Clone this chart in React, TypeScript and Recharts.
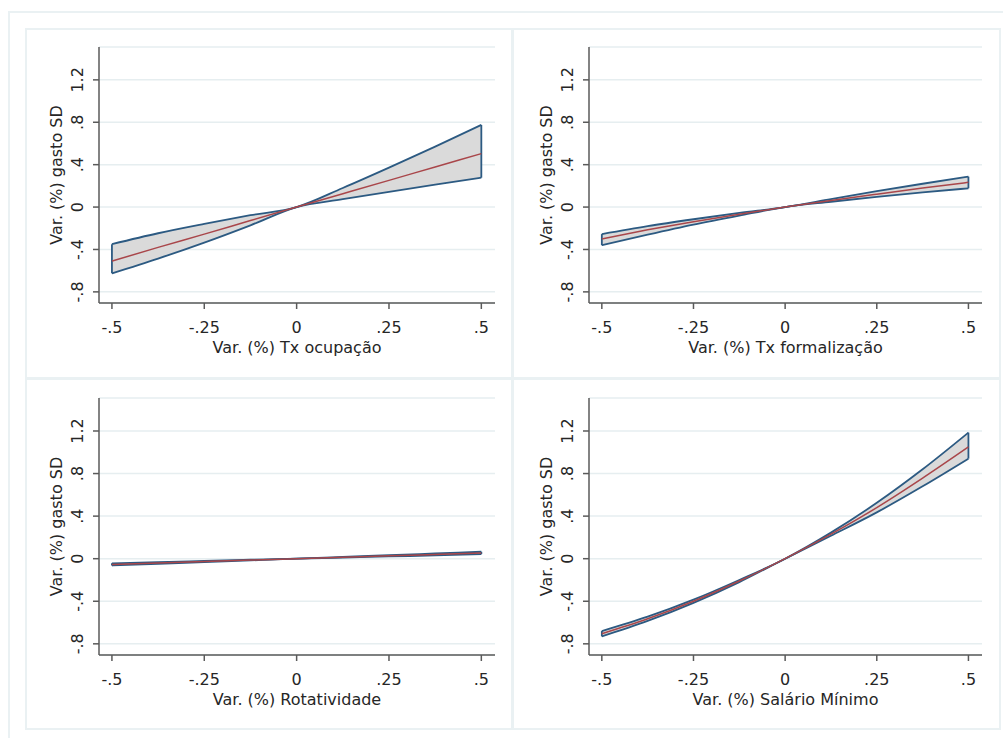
import { ComposedChart, Area, Line, XAxis, YAxis, CartesianGrid, ReferenceLine, Label } from 'recharts'

// x positions where the predictions were evaluated
const xPoints = [-0.5, -0.375, -0.25, -0.125, 0, 0.125, 0.25, 0.375, 0.5]

const xTicks = [-0.5, -0.25, 0, 0.25, 0.5]
const xTickLabels = ['-.5', '-.25', '0', '.25', '.5']
const yTicks = [-0.8, -0.4, 0, 0.4, 0.8, 1.2]
const yTickLabels = ['-.8', '-.4', '0', '.4', '.8', '1.2']

const yTitle = 'Var. (%) gasto SD'

// Tx ocupação
const ocupMean = [-0.51, -0.38, -0.255, -0.127, 0, 0.126, 0.252, 0.378, 0.504]
const ocupHi = [-0.35, -0.247, -0.159, -0.077, 0, 0.18, 0.372, 0.57, 0.775]
const ocupLo = [-0.625, -0.486, -0.335, -0.172, 0, 0.074, 0.144, 0.212, 0.277]

// Tx formalização
const formMean = [-0.3, -0.215, -0.138, -0.067, 0, 0.063, 0.122, 0.179, 0.233]
const formHi = [-0.255, -0.18, -0.115, -0.055, 0, 0.075, 0.15, 0.22, 0.287]
const formLo = [-0.36, -0.26, -0.165, -0.08, 0, 0.05, 0.097, 0.138, 0.177]

// Rotatividade
const rotMean = [-0.054, -0.04, -0.027, -0.013, 0, 0.013, 0.027, 0.04, 0.054]
const rotHi = [-0.044, -0.032, -0.021, -0.01, 0, 0.016, 0.033, 0.049, 0.065]
const rotLo = [-0.064, -0.048, -0.033, -0.016, 0, 0.01, 0.021, 0.031, 0.043]

// Salário Mínimo
const salMean = [-0.705, -0.565, -0.4, -0.21, 0, 0.23, 0.48, 0.757, 1.05]
const salHi = [-0.68, -0.545, -0.385, -0.2, 0, 0.245, 0.525, 0.84, 1.185]
const salLo = [-0.73, -0.585, -0.415, -0.22, 0, 0.215, 0.435, 0.68, 0.94]

const FONT = '"DejaVu Sans", Verdana, sans-serif'
const FS = 16
const TEXT = '#262626'
const AXIS = '#5a5a5a'
const GRID = '#e6eef0'
const BAND = '#dadada'
const EDGE = '#2c5a82'
const MEAN = '#a9464a'
const FRAME = '#eaf1f3'

const panels = [
  { title: 'Var. (%) Tx ocupação', mean: ocupMean, hi: ocupHi, lo: ocupLo, left: 25, top: 28, width: 487, height: 350, margin: { top: 19, right: 17, bottom: 15, left: 14 } },
  { title: 'Var. (%) Tx formalização', mean: formMean, hi: formHi, lo: formLo, left: 512, top: 28, width: 488, height: 350, margin: { top: 19, right: 18, bottom: 15, left: 17 } },
  { title: 'Var. (%) Rotatividade', mean: rotMean, hi: rotHi, lo: rotLo, left: 25, top: 378, width: 487, height: 351, margin: { top: 20, right: 17, bottom: 14, left: 14 } },
  { title: 'Var. (%) Salário Mínimo', mean: salMean, hi: salHi, lo: salLo, left: 512, top: 378, width: 488, height: 351, margin: { top: 20, right: 18, bottom: 14, left: 17 } },
]

const XTick = ({ x, y, payload }: any) => {
  const i = xTicks.indexOf(payload.value)
  return (
    <text x={x} y={y} textAnchor="middle" fontSize={FS} fontFamily={FONT} fill={TEXT}>
      {xTickLabels[i]}
    </text>
  )
}

const YTick = ({ x, y, payload }: any) => {
  const i = yTicks.findIndex(t => Math.abs(t - payload.value) < 1e-9)
  return (
    <text x={x} y={y} transform={`rotate(-90 ${x} ${y})`} textAnchor="middle" fontSize={FS} fontFamily={FONT} fill={TEXT}>
      {yTickLabels[i]}
    </text>
  )
}

function Panel({ p }: { p: typeof panels[number] }) {
  const data = xPoints.map((x, i) => ({ x, mean: p.mean[i], band: [p.lo[i], p.hi[i]] }))
  const last = xPoints.length - 1
  return (
    <div style={{ position: 'absolute', left: p.left, top: p.top }}>
      <ComposedChart width={p.width} height={p.height} data={data} margin={p.margin}>
        <CartesianGrid vertical={false} stroke={GRID} strokeWidth={1.5} />
        <XAxis
          dataKey="x" type="number" domain={[-0.535, 0.537]} allowDataOverflow
          ticks={xTicks} interval={0} height={60} tickSize={6} tickMargin={24}
          axisLine={{ stroke: AXIS, strokeWidth: 1.5 }} tickLine={{ stroke: AXIS, strokeWidth: 1.5 }}
          tick={<XTick />}
        >
          <Label
            content={({ viewBox }: any) => (
              <text x={viewBox.x + viewBox.width / 2} y={viewBox.y + 50} textAnchor="middle" fontSize={FS} fontFamily={FONT} fill={TEXT}>
                {p.title}
              </text>
            )}
          />
        </XAxis>
        <YAxis
          type="number" domain={[-0.905, 1.51]} allowDataOverflow
          ticks={yTicks} interval={0} width={60} tickSize={6} tickMargin={10}
          axisLine={{ stroke: AXIS, strokeWidth: 1.5 }} tickLine={{ stroke: AXIS, strokeWidth: 1.5 }}
          tick={<YTick />}
        >
          <Label
            content={({ viewBox }: any) => {
              const lx = viewBox.x + viewBox.width - 37
              const ly = viewBox.y + viewBox.height / 2
              return (
                <text x={lx} y={ly} transform={`rotate(-90 ${lx} ${ly})`} textAnchor="middle" fontSize={FS} fontFamily={FONT} fill={TEXT}>
                  {yTitle}
                </text>
              )
            }}
          />
        </YAxis>
        <Area type="monotone" dataKey="band" fill={BAND} fillOpacity={1} stroke={EDGE} strokeWidth={1.8} isAnimationActive={false} activeDot={false} />
        <ReferenceLine segment={[{ x: xPoints[0], y: p.lo[0] }, { x: xPoints[0], y: p.hi[0] }]} stroke={EDGE} strokeWidth={1.8} />
        <ReferenceLine segment={[{ x: xPoints[last], y: p.lo[last] }, { x: xPoints[last], y: p.hi[last] }]} stroke={EDGE} strokeWidth={1.8} />
        <Line type="monotone" dataKey="mean" stroke={MEAN} strokeWidth={1.5} dot={false} activeDot={false} isAnimationActive={false} />
      </ComposedChart>
    </div>
  )
}

export default function App() {
  return (
    <div style={{ position: 'absolute', left: 0, top: 0, width: 1003, height: 738, background: '#fff', overflow: 'hidden' }}>
      <div style={{ position: 'absolute', left: 8, top: 11, width: 1010, height: 740, borderLeft: `2px solid ${FRAME}`, borderTop: `2px solid ${FRAME}` }} />
      {panels.map((p, i) => (
        <div key={'f' + i} style={{ position: 'absolute', left: p.left, top: p.top, width: p.width + 1, height: p.height + 1, border: `2px solid ${FRAME}`, boxSizing: 'border-box' }} />
      ))}
      {panels.map((p, i) => <Panel key={i} p={p} />)}
    </div>
  )
}
